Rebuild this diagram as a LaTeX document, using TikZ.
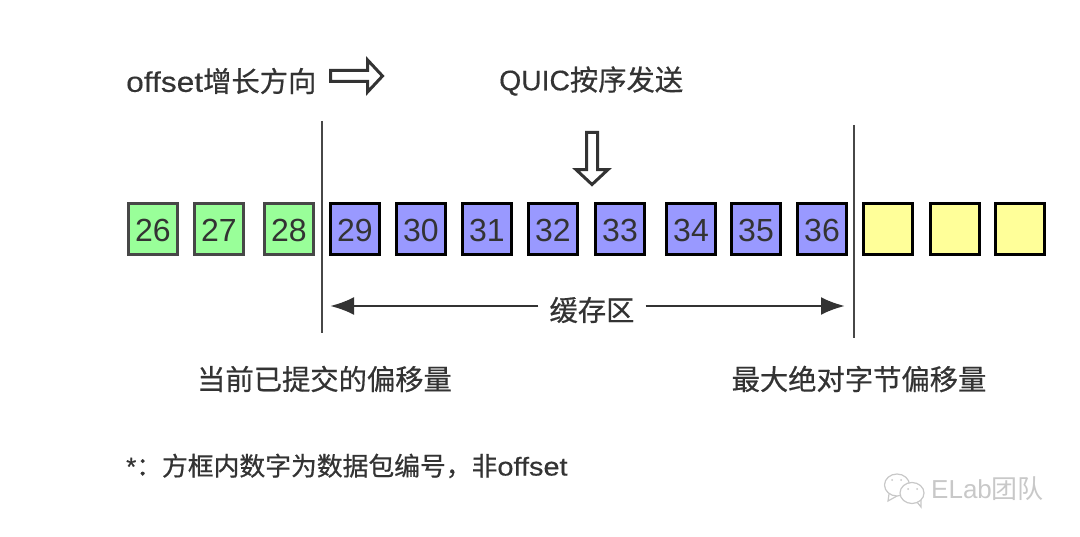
\documentclass[tikz,border=0pt]{standalone}
\usepackage{fontspec}
\setmainfont{Liberation Sans}
\newfontfamily\cjk[FakeBold=0.6]{Noto Sans CJK SC}
\newfontfamily\wide[FakeStretch=1.12,FakeBold=0.4]{Liberation Sans}
\newfontfamily\plain[FakeBold=0.4]{Liberation Sans}
\usepackage{tikz}
\usetikzlibrary{shapes.arrows, arrows.meta, positioning}
\definecolor{inktext}{HTML}{333333}
\definecolor{doneFill}{HTML}{99FF99}
\definecolor{bufFill}{HTML}{9999FF}
\definecolor{freeFill}{HTML}{FFFF99}
\definecolor{markGray}{HTML}{C8C8C8}
\tikzstyle{arrow} = [line width=2.8pt,inktext,-{Latex[length=24pt,width=18pt]}]

\begin{document}
\begin{tikzpicture}[x=1pt,y=-1pt,node distance=66pt]
   \tikzset{block/.style={draw, rectangle, line width=3pt, align=center, minimum width=49pt, minimum height=51pt, inner sep=0pt, text height=25pt, text depth=0pt, text=inktext, font=\fontsize{32}{32}\selectfont},
   done/.style={block, fill=doneFill, draw=black!72},
   buf/.style={block, fill=bufFill, draw=black},
   free/.style={block, fill=freeFill, draw=black},
   label/.style={text=inktext, inner sep=0pt, font=\cjk\fontsize{28.3}{30}\selectfont},
   hollow/.style={single arrow, draw=inktext, fill=white, line width=3pt, inner sep=4pt, minimum height=52pt, single arrow head extend=10.5pt, single arrow tip angle=94},
   edge/.style={line width=2.8pt, draw=black!72},
   }
 \useasboundingbox (0,0) rectangle (1080,537);

 \node [done] at (153,229) (n26) {26};
 \node [done, right of= n26] (n27) {27};
 \node [done, right of= n27, xshift=4pt] (n28) {28};
 \node [buf, right of= n28] (n29) {29};
 \node [buf, right of= n29] (n30) {30};
 \node [buf, right of= n30] (n31) {31};
 \node [buf, right of= n31] (n32) {32};
 \node [buf, right of= n32, xshift=1pt] (n33) {33};
 \node [buf, right of= n33, xshift=5pt] (n34) {34};
 \node [buf, right of= n34, xshift=-1pt] (n35) {35};
 \node [buf, right of= n35] (n36) {36};
 \node [free, right of= n36] (f1) {};
 \node [free, right of= f1, xshift=1pt] (f2) {};
 \node [free, right of= f2, xshift=-1pt] (f3) {};

 \node [label, anchor=west] at (126,81) (dirtext) {{\wide\fontsize{28.3}{30}\selectfont offset}增长方向};
 \node [hollow, anchor=tail] at (329,76) (dirarrow) {};
 \node [label, anchor=west] at (499,81) (sendtext) {{\plain QUIC}按序发送};
 \node [hollow, shape border rotate=270, anchor=tail] at (592,131) (sendarrow) {};

 \coordinate (commitTop) at (322,121);
 \coordinate (commitEnd) at (322,333);
 \coordinate (maxTop) at (854,125);
 \coordinate (maxEnd) at (854,338);
 \draw [edge] (commitTop) -- (commitEnd);
 \draw [edge] (maxTop) -- (maxEnd);

 \coordinate (bufLeft) at (330,306);
 \coordinate (bufRight) at (845,306);
 \node [label, inner xsep=11pt] at (592,310) (buftext) {缓存区};
 \draw [arrow] (buftext.west |- bufLeft) -- (bufLeft);
 \draw [arrow] (buftext.east |- bufRight) -- (bufRight);

 \node [label] at (324.5,379) (committext) {当前已提交的偏移量};
 \node [label] at (859,379) (maxtext) {最大绝对字节偏移量};
 \node [label, anchor=west, font=\cjk\fontsize{25.8}{28}\selectfont] at (126,466) (notetext) {{\plain *}：方框内数字为数据包编号，非{\wide\fontsize{25.8}{28}\selectfont offset}};

 % watermark
 \draw [markGray, line width=1.2pt, fill=white] (889,494) -- (888,501) -- (897,496) (917,502) -- (921,507) -- (921,500);
 \draw [markGray, line width=1.2pt, fill=white] (897,485) ellipse (12.5 and 11);
 \draw [markGray, line width=1.2pt, fill=white] (912,493) ellipse (12 and 10.5);
 \fill [markGray] (892,480) circle (1) (901,480) circle (1) (908,489) circle (1) (917,489) circle (1);
 \node [inner sep=0pt, anchor=west, text=markGray, font=\fontsize{26}{28}\selectfont] at (931,489) (marktext) {ELab{\fontspec{Noto Sans CJK SC}团队}};
\end{tikzpicture}
\end{document}
